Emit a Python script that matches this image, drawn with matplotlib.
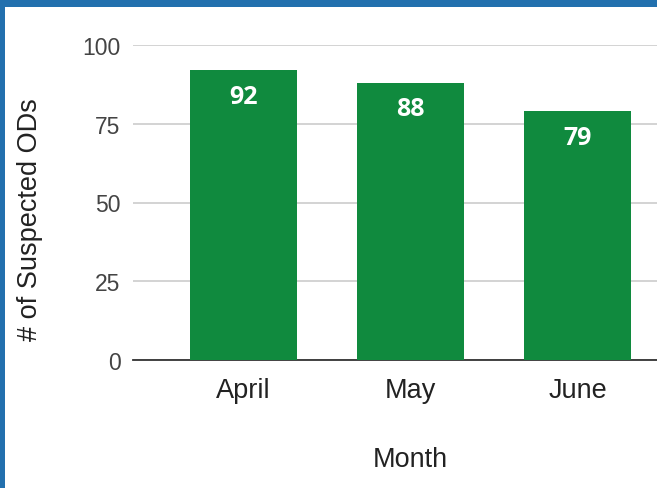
import matplotlib
matplotlib.use('Agg')
import matplotlib.pyplot as plt
from matplotlib.patches import Rectangle

plt.rcParams['font.family'] = ['Liberation Sans', 'DejaVu Sans']

months = ['April', 'May', 'June']
suspected_ods = [92, 88, 79]
yticks = [0, 25, 50, 75, 100]

GREEN = '#108a3e'
BLUE = '#2270ae'
GRID = '#cccccc'

W, H = 657, 489
fig = plt.figure(figsize=(W / 100, H / 100), dpi=100)
fig.patch.set_facecolor('white')

# blue frame (top and left strips of the surrounding page)
fig.patches.append(Rectangle((0, 1 - 8 / H), 1, 8 / H, transform=fig.transFigure,
                             facecolor=BLUE, edgecolor='none', zorder=0))
fig.patches.append(Rectangle((0, 0), 5 / W, 1, transform=fig.transFigure,
                             facecolor=BLUE, edgecolor='none', zorder=0))

ax = fig.add_axes([133 / W, (H - 361) / H, 1 - 133 / W, (361 - 46) / H])
x = range(len(months))
bars = ax.bar(x, suspected_ods, width=0.64, color=GREEN, zorder=3)

for b, v in zip(bars, suspected_ods):
    ax.text(b.get_x() + b.get_width() / 2, v - 8.3, str(v), ha='center', va='center',
            color='white', fontsize=18, fontweight='bold', family='Open Sans', zorder=4)

ax.set_xlim(-0.66, 2.476)
ax.set_ylim(0, 100)
ax.set_yticks(yticks)
ax.set_xticks(list(x))
ax.set_xticklabels(months)
ax.yaxis.grid(True, color=GRID, linewidth=1.2, zorder=0)
ax.set_axisbelow(True)
for s in ['top', 'right', 'left']:
    ax.spines[s].set_visible(False)
ax.spines['bottom'].set_color('#333333')
ax.spines['bottom'].set_linewidth(1.3)
ax.tick_params(axis='both', length=0)
ax.tick_params(axis='y', labelsize=16.5, pad=9, labelcolor='#444444')
ax.tick_params(axis='x', labelsize=19.5, pad=12, labelcolor='#222222')

ax.set_xlabel('Month', fontsize=19.5, color='#222222')
ax.xaxis.set_label_coords(0.529, -0.314)
ax.xaxis.label.set_va('center')
ax.set_ylabel('# of Suspected ODs', fontsize=19.5, color='#222222')
ax.yaxis.set_label_coords(-0.197, 0.448)
ax.yaxis.label.set_va('center')

fig.savefig('out.png', dpi=100)
